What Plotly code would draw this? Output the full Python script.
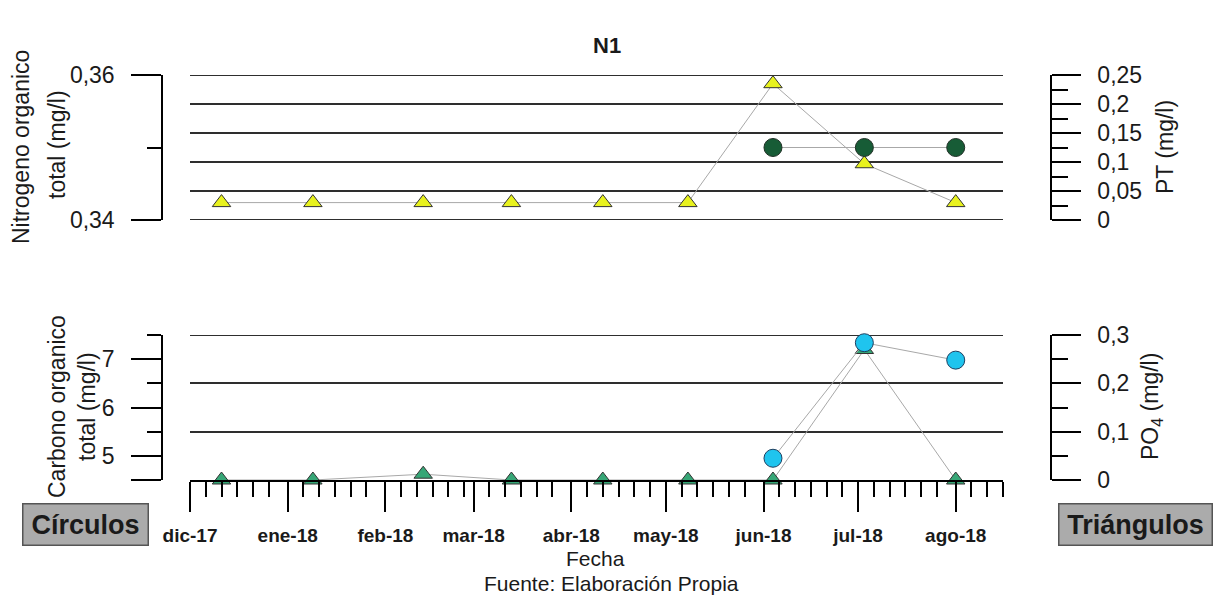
import plotly.graph_objects as go

# Sampling dates (one per campaign)
fechas = ["2017-12-11", "2018-01-09", "2018-02-13", "2018-03-13", "2018-04-11",
          "2018-05-08", "2018-06-04", "2018-07-03", "2018-08-01"]
fechas_org = ["2018-06-04", "2018-07-03", "2018-08-01"]

# Upper panel: phosphorus total (triangles) and organic nitrogen (circles)
pt_mgl = [0.03, 0.03, 0.03, 0.03, 0.03, 0.03, 0.235, 0.097, 0.03]
n_org_mgl = [0.35, 0.35, 0.35]

# Lower panel: phosphate (triangles) and organic carbon (circles)
po4_mgl = [0.0, 0.0, 0.012, 0.0, 0.0, 0.0, 0.0, 0.27, 0.0]
c_org_mgl = [4.95, 7.34, 6.98]

# Month axis
meses = ["2017-12-01", "2018-01-01", "2018-02-01", "2018-03-01", "2018-04-01",
         "2018-05-01", "2018-06-01", "2018-07-01", "2018-08-01"]
meses_txt = ["dic-17", "ene-18", "feb-18", "mar-18", "abr-18",
             "may-18", "jun-18", "jul-18", "ago-18"]

# Tick values / labels of the value axes
pt_ticks = [0, 0.05, 0.1, 0.15, 0.2, 0.25]
pt_txt = ["0", "0,05", "0,1", "0,15", "0,2", "0,25"]
n_ticks = [0.34, 0.36]
n_txt = ["0,34", "0,36"]
po4_ticks = [0, 0.1, 0.2, 0.3]
po4_txt = ["0", "0,1", "0,2", "0,3"]
c_ticks = [4.5, 5, 6, 7]
c_txt = [" ", "5", "6", "7"]

W, H = 1215, 601
FONT = "Arial, Liberation Sans, sans-serif"
X_END = "2018-08-16"


def px_x(p):
    return p / W


def px_y(p):
    return 1 - p / H


# minor date ticks on days 6, 11, 16, 21, 26 of each month
minor_dates = []
for m in meses:
    y, mo, _ = m.split("-")
    for d in (6, 11, 16, 21, 26):
        s = f"{y}-{mo}-{d:02d}"
        if s <= X_END:
            minor_dates.append(s)

LINE_GRAY = "#a8a8a8"
GRID = "#2e2e2e"
AX = dict(color="black", linecolor="black", linewidth=1.5, tickcolor="black",
          tickwidth=1.5, showgrid=False, zeroline=False, ticks="outside",
          automargin=False,
          tickfont=dict(family=FONT, size=23, color="#1a1a1a"))

fig = go.Figure()

fig.add_trace(go.Scatter(
    x=fechas, y=pt_mgl, xaxis="x", yaxis="y", mode="lines+markers",
    line=dict(color=LINE_GRAY, width=1),
    marker=dict(symbol="triangle-up", size=16, color="#e8f21e",
                line=dict(color="#333333", width=1)),
    cliponaxis=False, showlegend=False))
fig.add_trace(go.Scatter(
    x=fechas_org, y=n_org_mgl, xaxis="x", yaxis="y2", mode="lines+markers",
    line=dict(color=LINE_GRAY, width=1),
    marker=dict(symbol="circle", size=18, color="#175c36",
                line=dict(color="#1f2f25", width=1)),
    cliponaxis=False, showlegend=False))
fig.add_trace(go.Scatter(
    x=fechas, y=po4_mgl, xaxis="x2", yaxis="y3", mode="lines+markers",
    line=dict(color=LINE_GRAY, width=1),
    marker=dict(symbol="triangle-up", size=16, color="#36a676",
                line=dict(color="#333333", width=1)),
    cliponaxis=False, showlegend=False))
fig.add_trace(go.Scatter(
    x=fechas_org, y=c_org_mgl, xaxis="x2", yaxis="y4", mode="lines+markers",
    line=dict(color=LINE_GRAY, width=1),
    marker=dict(symbol="circle", size=18, color="#1fc4ee",
                line=dict(color="#1d3f60", width=1)),
    cliponaxis=False, showlegend=False))

top_dom = [px_y(220), px_y(75)]
bot_dom = [px_y(480), px_y(335)]
x_dom = [px_x(190), px_x(1003)]

fig.update_layout(
    width=W, height=H, autosize=False,
    margin=dict(l=0, r=0, t=0, b=0, pad=0),
    paper_bgcolor="white", plot_bgcolor="white",
    font=dict(family=FONT, color="#1a1a1a"),
    separators=", ",
    xaxis=dict(domain=x_dom, anchor="y", type="date", automargin=False,
               range=[meses[0], X_END], visible=False, showgrid=False,
               zeroline=False),
    xaxis2=dict(domain=x_dom, anchor="y3", type="date", matches="x",
                automargin=False,
                range=[meses[0], X_END], showline=True, linecolor="black",
                linewidth=1.5, showgrid=False, zeroline=False,
                ticks="outside", ticklen=30, tickwidth=1.5, tickcolor="black",
                tickmode="array", tickvals=meses, ticktext=meses_txt,
                ticklabelstandoff=7,
                tickfont=dict(family=FONT, size=19, color="#1a1a1a",
                              weight="bold"),
                minor=dict(tickmode="array", tickvals=minor_dates, ticklen=15,
                           tickwidth=1.5, tickcolor="black", ticks="outside",
                           showgrid=False)),
    # PT axis (right, top) carries the grid
    yaxis=dict(AX, domain=top_dom, anchor="free", side="right",
               position=px_x(1051), range=[0, 0.25], showline=True,
               showgrid=True, gridcolor=GRID, gridwidth=1.5,
               tickmode="array", tickvals=pt_ticks, ticktext=pt_txt,
               ticklen=29, ticklabelstandoff=12,
               minor=dict(tickmode="array",
                          tickvals=[0.025, 0.075, 0.125, 0.175, 0.225],
                          ticklen=16, tickwidth=1.5, tickcolor="black",
                          ticks="outside", showgrid=False)),
    yaxis2=dict(AX, domain=top_dom, anchor="free", overlaying="y", side="left",
                position=px_x(162), range=[0.34, 0.36], showline=True,
                tickmode="array", tickvals=n_ticks, ticktext=n_txt,
                ticklen=30, ticklabelstandoff=12,
                minor=dict(tickmode="array", tickvals=[0.35], ticklen=14,
                           tickwidth=1.5, tickcolor="black", ticks="outside",
                           showgrid=False)),
    # PO4 axis (right, bottom) carries the grid
    yaxis3=dict(AX, domain=bot_dom, anchor="free", side="right",
                position=px_x(1051), range=[0, 0.3], showline=True,
                showgrid=True, gridcolor=GRID, gridwidth=1.5,
                tickmode="array", tickvals=po4_ticks, ticktext=po4_txt,
                ticklen=29, ticklabelstandoff=12,
                minor=dict(tickmode="array", tickvals=[0.05, 0.15, 0.25],
                           ticklen=16, tickwidth=1.5, tickcolor="black",
                           ticks="outside", showgrid=False)),
    yaxis4=dict(AX, domain=bot_dom, anchor="free", overlaying="y3",
                side="left", position=px_x(162), range=[4.5, 7.5],
                showline=True, tickmode="array", tickvals=c_ticks,
                ticktext=c_txt, ticklen=30, ticklabelstandoff=12,
                minor=dict(tickmode="array", tickvals=[5.5, 6.5, 7.5],
                           ticklen=14, tickwidth=1.5, tickcolor="black",
                           ticks="outside", showgrid=False)),
)

# grid lines that sit on the edges of the value ranges
for yref, val in (("y", pt_ticks[0]), ("y", pt_ticks[-1]),
                  ("y3", po4_ticks[-1])):
    fig.add_shape(type="line", xref="x domain", x0=0, x1=1, yref=yref,
                  y0=val, y1=val, line=dict(color=GRID, width=2),
                  layer="below")


def note(text, x, y, size, angle=0, bold=False, **kw):
    fig.add_annotation(
        text=f"<b>{text}</b>" if bold else text,
        x=px_x(x), y=px_y(y), xref="paper", yref="paper",
        xanchor="center", yanchor="middle", showarrow=False,
        textangle=angle, font=dict(family=FONT, size=size, color="#1a1a1a"),
        **kw)


note("N1", 607, 45, 22, bold=True)
note("Nitrogeno organico", 21, 147, 23, angle=-90)
note("total (mg/l)", 57, 145, 23, angle=-90)
note("Carbono organico", 57, 407, 23, angle=-90)
note("total (mg/l)", 87, 407, 23, angle=-90)
note("PT (mg/l)", 1165, 147, 23, angle=-90)
note("PO<sub>4</sub> (mg/l)", 1151, 407, 23, angle=-90)
note("Fecha", 595, 558, 21)
note("Fuente: Elaboración Propia", 611, 583, 21)
note("Círculos", 85, 524, 27, bold=True, bgcolor="#ababab",
     bordercolor="#555555", borderwidth=1.5, borderpad=1, width=122, height=38)
note("Triángulos", 1135, 524, 27, bold=True, bgcolor="#ababab",
     bordercolor="#555555", borderwidth=1.5, borderpad=1, width=150, height=38)

fig.write_html("out.html")
